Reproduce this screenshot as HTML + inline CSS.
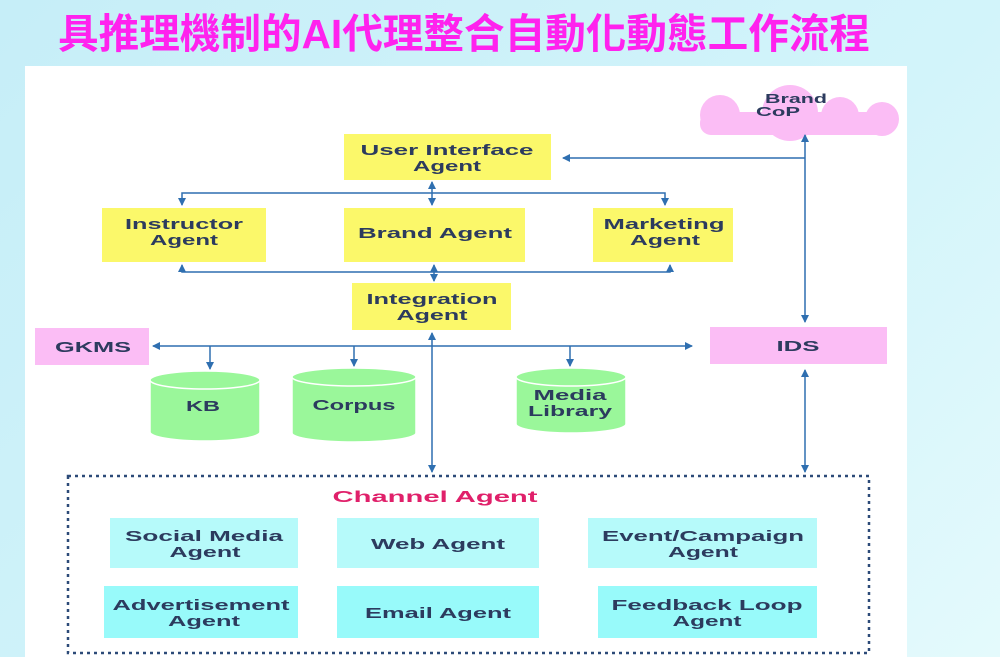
<!DOCTYPE html>
<html><head><meta charset="utf-8"><style>
body{margin:0;width:1000px;height:657px;overflow:hidden;background:linear-gradient(135deg,#c6eef8 0%,#d2f4fa 60%,#e4fafc 100%);font-family:"Liberation Sans",sans-serif}
</style></head><body>
<svg width="1000" height="657" xmlns="http://www.w3.org/2000/svg" style="position:absolute;left:0;top:0">
<defs><marker id="a" markerWidth="8" markerHeight="8" refX="7" refY="4" orient="auto-start-reverse" markerUnits="userSpaceOnUse"><path d="M0,0 L8,4 L0,8 z" fill="#2f6fb0"/></marker></defs>
<text x="58" y="48" font-family="Liberation Sans,Noto Sans CJK TC,sans-serif" font-weight="bold" font-size="41" fill="#ff22ee" textLength="812" lengthAdjust="spacingAndGlyphs">具推理機制的AI代理整合自動化動態工作流程</text>
<rect x="25" y="66" width="882" height="591" fill="#fff"/>
<g fill="#fbbdf5">
<circle cx="790" cy="113" r="28"/><circle cx="720" cy="115" r="20"/><circle cx="840" cy="116" r="19"/><circle cx="882" cy="119" r="17"/>
<rect x="700" y="112" width="195" height="23" rx="11"/>
</g>
<g font-weight="bold" font-size="15" fill="#2c3b5e" text-anchor="middle">
<text x="796" y="103" font-size="13" textLength="62" lengthAdjust="spacingAndGlyphs">Brand</text><text x="778" y="116" font-size="13" textLength="44" lengthAdjust="spacingAndGlyphs">CoP</text>
<rect x="344" y="134" width="207" height="46" fill="#fbf86a"/><text x="447" y="155" textLength="173" lengthAdjust="spacingAndGlyphs">User Interface</text><text x="447" y="171" textLength="68" lengthAdjust="spacingAndGlyphs">Agent</text>
<rect x="102" y="208" width="164" height="54" fill="#fbf86a"/><text x="184" y="229" textLength="118" lengthAdjust="spacingAndGlyphs">Instructor</text><text x="184" y="245" textLength="68" lengthAdjust="spacingAndGlyphs">Agent</text>
<rect x="344" y="208" width="181" height="54" fill="#fbf86a"/><text x="435" y="238" textLength="154" lengthAdjust="spacingAndGlyphs">Brand Agent</text>
<rect x="593" y="208" width="140" height="54" fill="#fbf86a"/><text x="664" y="229" textLength="121" lengthAdjust="spacingAndGlyphs">Marketing</text><text x="665" y="245" textLength="70" lengthAdjust="spacingAndGlyphs">Agent</text>
<rect x="352" y="283" width="159" height="47" fill="#fbf86a"/><text x="432" y="304" textLength="131" lengthAdjust="spacingAndGlyphs">Integration</text><text x="432" y="320" textLength="71" lengthAdjust="spacingAndGlyphs">Agent</text>
<rect x="35" y="328" width="114" height="37" fill="#fbbdf5"/><text x="93" y="352" textLength="76" lengthAdjust="spacingAndGlyphs">GKMS</text>
<rect x="710" y="327" width="177" height="37" fill="#fbbdf5"/><text x="798" y="351" textLength="43" lengthAdjust="spacingAndGlyphs">IDS</text>
<g fill="#9af79a" stroke="#fff" stroke-width="1.5">
<path d="M150,380 v52 a55,9 0 0 0 110,0 v-52"/><ellipse cx="205" cy="380" rx="55" ry="9"/>
<path d="M292,377 v56 a62,9 0 0 0 124,0 v-56"/><ellipse cx="354" cy="377" rx="62" ry="9"/>
<path d="M516,377 v47 a55,9 0 0 0 110,0 v-47"/><ellipse cx="571" cy="377" rx="55" ry="9"/>
</g>
<text x="203" y="411" textLength="34" lengthAdjust="spacingAndGlyphs">KB</text><text x="354" y="410" textLength="83" lengthAdjust="spacingAndGlyphs">Corpus</text><text x="570" y="400" textLength="73" lengthAdjust="spacingAndGlyphs">Media</text><text x="570" y="416" textLength="84" lengthAdjust="spacingAndGlyphs">Library</text>
<rect x="68" y="476" width="801" height="177" fill="none" stroke="#2c4a78" stroke-width="2.5" stroke-dasharray="3,4"/>
<text x="435" y="502" fill="#e0206a" font-size="16" textLength="205" lengthAdjust="spacingAndGlyphs">Channel Agent</text>
<rect x="110" y="518" width="188" height="50" fill="#b6fafa"/><text x="204" y="541" textLength="158" lengthAdjust="spacingAndGlyphs">Social Media</text><text x="205" y="557" textLength="71" lengthAdjust="spacingAndGlyphs">Agent</text>
<rect x="337" y="518" width="202" height="50" fill="#b6fafa"/><text x="438" y="549" textLength="134" lengthAdjust="spacingAndGlyphs">Web Agent</text>
<rect x="588" y="518" width="229" height="50" fill="#b6fafa"/><text x="703" y="541" textLength="202" lengthAdjust="spacingAndGlyphs">Event/Campaign</text><text x="703" y="557" textLength="70" lengthAdjust="spacingAndGlyphs">Agent</text>
<rect x="104" y="586" width="194" height="52" fill="#98fafa"/><text x="201" y="610" textLength="177" lengthAdjust="spacingAndGlyphs">Advertisement</text><text x="204" y="626" textLength="72" lengthAdjust="spacingAndGlyphs">Agent</text>
<rect x="337" y="586" width="202" height="52" fill="#98fafa"/><text x="438" y="618" textLength="146" lengthAdjust="spacingAndGlyphs">Email Agent</text>
<rect x="598" y="586" width="219" height="52" fill="#98fafa"/><text x="707" y="610" textLength="191" lengthAdjust="spacingAndGlyphs">Feedback Loop</text><text x="707" y="626" textLength="69" lengthAdjust="spacingAndGlyphs">Agent</text>
</g>
<g stroke="#2f6fb0" stroke-width="1.5" fill="none">
<path d="M805,158 H563" marker-end="url(#a)"/>
<path d="M805,135 V322" marker-start="url(#a)" marker-end="url(#a)"/>
<path d="M805,370 V472" marker-start="url(#a)" marker-end="url(#a)"/>
<path d="M182,205 V193 H665 V205" marker-start="url(#a)" marker-end="url(#a)"/>
<path d="M432,182 V205" marker-start="url(#a)" marker-end="url(#a)"/>
<path d="M182,265 V272 H670 V265" marker-start="url(#a)" marker-end="url(#a)"/>
<path d="M434,265 V281" marker-start="url(#a)" marker-end="url(#a)"/>
<path d="M153,346 H692" marker-start="url(#a)" marker-end="url(#a)"/>
<path d="M210,346 V369" marker-end="url(#a)"/>
<path d="M354,346 V366" marker-end="url(#a)"/>
<path d="M570,346 V366" marker-end="url(#a)"/>
<path d="M432,333 V472" marker-start="url(#a)" marker-end="url(#a)"/>
</g>
</svg>
</body></html>
